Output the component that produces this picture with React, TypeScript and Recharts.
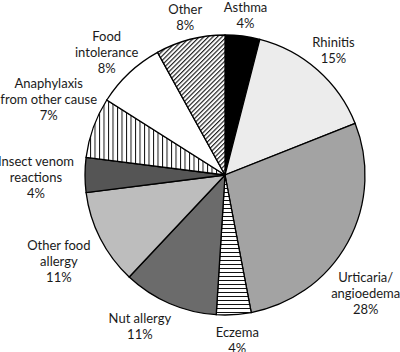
import { PieChart, Pie, Cell } from "recharts";

const categories = [
  "Asthma",
  "Rhinitis",
  "Urticaria/\nangioedema",
  "Eczema",
  "Nut allergy",
  "Other food\nallergy",
  "Insect venom\nreactions",
  "Anaphylaxis\nfrom other cause",
  "Food\nintolerance",
  "Other",
];
const percents = [4, 15, 28, 4, 11, 11, 4, 7, 8, 8];

const fills = [
  "#000000",
  "#ececec",
  "#a3a3a3",
  "url(#hstripe)",
  "#6b6b6b",
  "#bdbdbd",
  "#555555",
  "url(#vstripe)",
  "#ffffff",
  "url(#dstripe)",
];

// hand nudges on top of the radial label position
const nudge: Record<number, [number, number]> = {
  0: [0, 3],
  1: [0, -2],
  2: [-3, 39],
  3: [2, 1],
  4: [-20, 0],
  5: [-20, 12],
  6: [-25, 2],
  7: [-22, -20],
  8: [-6, -3],
  9: [1, 1],
};

const data = categories.map((name, i) => ({ name, value: percents[i] }));

const RAD = Math.PI / 180;
const LINE_H = 16;

function renderLabel(props: any) {
  const { cx, cy, midAngle, outerRadius, index, name, value } = props;
  const r = outerRadius + 24;
  const [dx, dy] = nudge[index] ?? [0, 0];
  const x = cx + r * Math.cos(-midAngle * RAD) + dx;
  const y = cy + r * Math.sin(-midAngle * RAD) + dy;
  const lines = [...String(name).split("\n"), `${value}%`];
  const top = y - ((lines.length - 1) * LINE_H) / 2;
  return (
    <text
      key={`lbl-${index}`}
      x={x}
      y={top}
      textAnchor="middle"
      dominantBaseline="central"
      fill="#1a1a1a"
      fontSize={13}
      fontFamily="Lato, 'Open Sans', sans-serif"
    >
      {lines.map((l, k) => (
        <tspan key={k} x={x} y={top + k * LINE_H}>
          {l}
        </tspan>
      ))}
    </text>
  );
}

export default function App() {
  return (
    <div style={{ position: "absolute", left: 0, top: 0, width: 400, height: 352, background: "#fff" }}>
      <PieChart width={400} height={352} margin={{ top: 0, right: 0, bottom: 0, left: 0 }}>
        <defs>
          <pattern id="hstripe" width="4" height="4" patternUnits="userSpaceOnUse">
            <rect width="4" height="4" fill="#fff" />
            <line x1="0" y1="0.5" x2="4" y2="0.5" stroke="#111" strokeWidth="1" />
          </pattern>
          <pattern id="vstripe" width="4.5" height="4.5" patternUnits="userSpaceOnUse">
            <rect width="4.5" height="4.5" fill="#fff" />
            <line x1="0.5" y1="0" x2="0.5" y2="4.5" stroke="#111" strokeWidth="1" />
          </pattern>
          <pattern
            id="dstripe"
            width="3.2"
            height="3.2"
            patternUnits="userSpaceOnUse"
            patternTransform="rotate(45)"
          >
            <rect width="3.2" height="3.2" fill="#fff" />
            <line x1="0.6" y1="0" x2="0.6" y2="3.2" stroke="#111" strokeWidth="1.1" />
          </pattern>
        </defs>
        <Pie
          data={data}
          dataKey="value"
          nameKey="name"
          cx={225}
          cy={175}
          outerRadius={140}
          startAngle={90}
          endAngle={-270}
          stroke="#000"
          strokeWidth={1.3}
          label={renderLabel}
          labelLine={false}
          isAnimationActive={false}
        >
          {data.map((d, i) => (
            <Cell key={d.name} fill={fills[i]} />
          ))}
        </Pie>
      </PieChart>
    </div>
  );
}
